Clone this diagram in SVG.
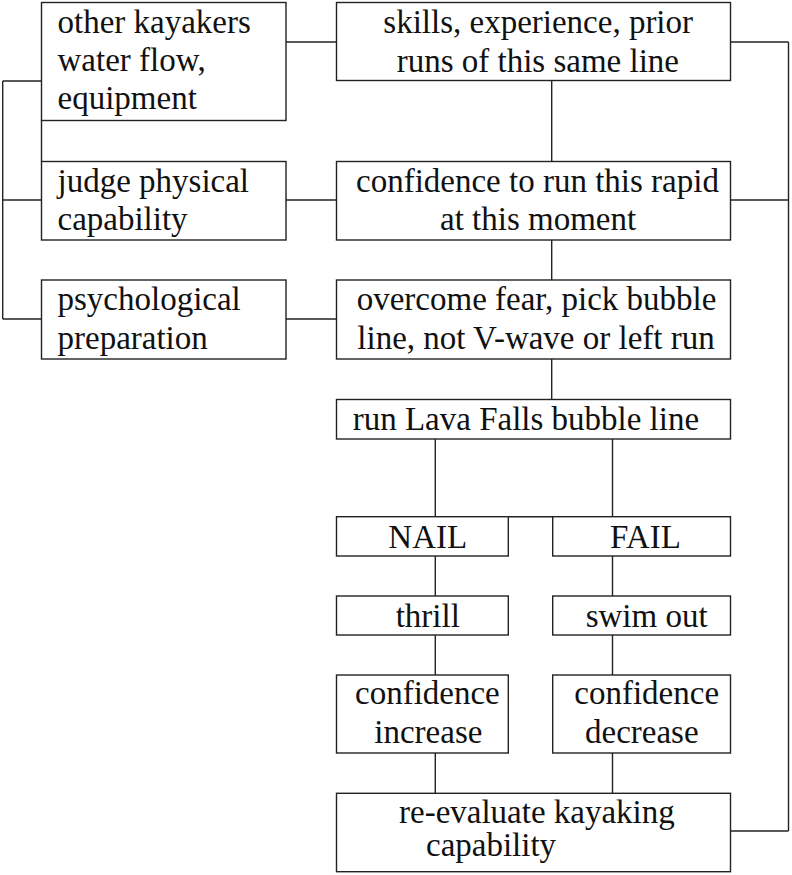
<svg xmlns="http://www.w3.org/2000/svg" width="792" height="875" viewBox="0 0 792 875">
<style>
  .box rect { fill: #ffffff; stroke: #222222; stroke-width: 1.4; }
  .box text { font-family: 'Liberation Serif', 'Times New Roman', Times, serif; font-size: 33px; fill: #111111; }
  #connectors line { stroke: #222222; stroke-width: 1.4; fill: none; }
</style>
<rect x="0" y="0" width="792" height="875" fill="#ffffff"/>
<g id="connectors">
  <line x1="2.7" y1="81" x2="2.7" y2="319"/>
  <line x1="2.7" y1="81" x2="41.5" y2="81"/>
  <line x1="2.7" y1="200" x2="41.5" y2="200"/>
  <line x1="2.7" y1="319" x2="41.5" y2="319"/>
  <line x1="41.5" y1="120.5" x2="41.5" y2="161.5"/>
  <line x1="286" y1="42" x2="336.5" y2="42"/>
  <line x1="286" y1="200" x2="336.5" y2="200"/>
  <line x1="286" y1="319" x2="336.5" y2="319"/>
  <line x1="551.7" y1="80.5" x2="551.7" y2="161.5"/>
  <line x1="551.7" y1="240" x2="551.7" y2="280"/>
  <line x1="551.7" y1="359" x2="551.7" y2="399.5"/>
  <line x1="435.3" y1="439" x2="435.3" y2="516.7"/>
  <line x1="612.5" y1="439" x2="612.5" y2="516.7"/>
  <line x1="508.3" y1="516.7" x2="552.7" y2="516.7"/>
  <line x1="435.3" y1="556" x2="435.3" y2="596"/>
  <line x1="612.5" y1="556" x2="612.5" y2="596"/>
  <line x1="435.3" y1="635" x2="435.3" y2="675"/>
  <line x1="612.5" y1="635" x2="612.5" y2="675"/>
  <line x1="435.3" y1="753" x2="435.3" y2="793.3"/>
  <line x1="612.5" y1="753" x2="612.5" y2="793.3"/>
  <line x1="788.5" y1="42" x2="788.5" y2="831"/>
  <line x1="730.5" y1="42" x2="788.5" y2="42"/>
  <line x1="730.5" y1="200" x2="788.5" y2="200"/>
  <line x1="730.5" y1="831" x2="788.5" y2="831"/>
</g>
<g id="n-other" class="box">
  <rect x="41.5" y="2.5" width="244.5" height="118"/>
  <text x="57.5" y="33">other kayakers</text>
  <text x="57.5" y="71">water flow,</text>
  <text x="57.5" y="109">equipment</text>
</g>
<g id="n-judge" class="box">
  <rect x="41.5" y="161.5" width="244.5" height="78.5"/>
  <text x="57.5" y="192">judge physical</text>
  <text x="57.5" y="230">capability</text>
</g>
<g id="n-psych" class="box">
  <rect x="41.5" y="280" width="244.5" height="79"/>
  <text x="57.5" y="310">psychological</text>
  <text x="57.5" y="348.5">preparation</text>
</g>
<g id="n-skills" class="box">
  <rect x="336.5" y="2.5" width="394" height="78"/>
  <text x="383.3" y="33">skills, experience, prior</text>
  <text x="396.7" y="71.5">runs of this same line</text>
</g>
<g id="n-confidence" class="box">
  <rect x="336.5" y="161.5" width="394" height="78.5"/>
  <text x="356" y="192">confidence to run this rapid</text>
  <text x="440" y="230">at this moment</text>
</g>
<g id="n-overcome" class="box">
  <rect x="336.5" y="280" width="394" height="79"/>
  <text x="356.7" y="309.5">overcome fear, pick bubble</text>
  <text x="357.3" y="348.5">line, not V-wave or left run</text>
</g>
<g id="n-run" class="box">
  <rect x="336.5" y="399.5" width="394" height="39.5"/>
  <text x="352.7" y="429.5">run Lava Falls bubble line</text>
</g>
<g id="n-nail" class="box">
  <rect x="336.5" y="516.7" width="171.8" height="39.3"/>
  <text x="388.3" y="547.5">NAIL</text>
</g>
<g id="n-fail" class="box">
  <rect x="552.7" y="516.7" width="177.8" height="39.3"/>
  <text x="610" y="547.5">FAIL</text>
</g>
<g id="n-thrill" class="box">
  <rect x="336.5" y="596" width="171.8" height="39"/>
  <text x="395.7" y="626.5">thrill</text>
</g>
<g id="n-swim" class="box">
  <rect x="552.7" y="596" width="177.8" height="39"/>
  <text x="585.7" y="626.5">swim out</text>
</g>
<g id="n-increase" class="box">
  <rect x="336.5" y="675" width="171.8" height="78"/>
  <text x="355" y="704">confidence</text>
  <text x="374.3" y="743">increase</text>
</g>
<g id="n-decrease" class="box">
  <rect x="552.7" y="675" width="177.8" height="78"/>
  <text x="574.3" y="704">confidence</text>
  <text x="585" y="743">decrease</text>
</g>
<g id="n-reevaluate" class="box">
  <rect x="336.5" y="793.3" width="394" height="78.4"/>
  <text x="399" y="823">re-evaluate kayaking</text>
  <text x="426" y="856">capability</text>
</g>
</svg>
